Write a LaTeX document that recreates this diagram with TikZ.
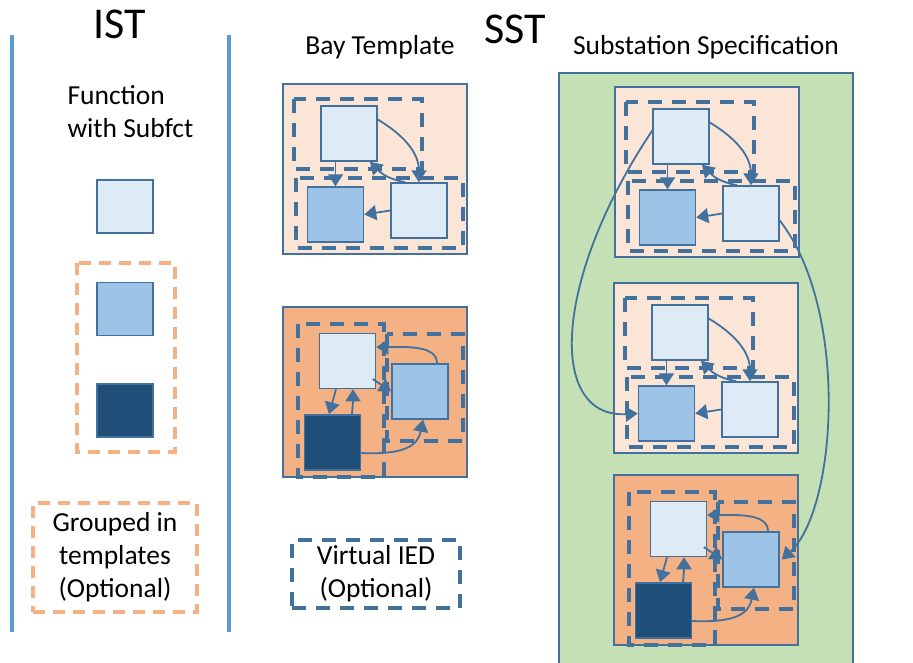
\documentclass[tikz,border=0pt]{standalone}
\usepackage{fontspec}
\setmainfont{Carlito}
\usetikzlibrary{arrows.meta}

\definecolor{blueline}{HTML}{41719C}
\definecolor{sepline}{HTML}{5B9BD5}
\definecolor{fctlight}{HTML}{DEEBF7}
\definecolor{fctmid}{HTML}{9DC3E6}
\definecolor{fctdark}{HTML}{1F4E79}
\definecolor{peach}{HTML}{FBE5D6}
\definecolor{apricot}{HTML}{F4B183}
\definecolor{sstgreen}{HTML}{C5E0B4}

\tikzset{
  fct/.style={draw=blueline, line width=1.5pt, minimum width=56pt, minimum height=55pt, inner sep=0pt},
  bayline/.style={draw=blueline, line width=1.5pt},
  iedbox/.style={draw=blueline, line width=4pt, dash pattern=on 14pt off 10pt},
  tmplbox/.style={draw=apricot, line width=3.5pt, dash pattern=on 12pt off 8pt},
  flow/.style={draw=blueline, line width=1.8pt, -{Triangle[length=12pt,width=15pt]}},
  title/.style={font=\fontsize{44}{52}\selectfont},
  head/.style={font=\fontsize{27.5}{33}\selectfont, align=center}
}

% bay template with three sub functions
\newcommand{\plainbay}{%
  \draw[bayline, fill=peach] (0,0) rectangle (184,170);
  \draw[iedbox] (11,15) rectangle (139,85);
  \draw[iedbox] (13,94) rectangle (180,164);
  \node[fct, fill=fctlight] (A) at (66,49.5) {};
  \node[fct, fill=fctmid] (B) at (52.5,130.5) {};
  \node[fct, fill=fctlight] (C) at (136,126.5) {};
  \draw[flow] (A.south -| B.north) -- (B.north);
  \draw[flow] ([yshift=14pt]A.east) .. controls +(25,15) and +(0,-30) .. (C.north);
  \draw[flow] ([xshift=-14pt]C.north) .. controls +(-20,-4) and +(10,10) .. ([xshift=21pt]A.south);
  \draw[flow] (C.west) -- (B.east);
}

% bay template with dark function
\newcommand{\fullbay}{%
  \draw[bayline, fill=apricot] (0,0) rectangle (184,170);
  \draw[iedbox] (15,17) rectangle (101,170);
  \draw[iedbox] (104,27) rectangle (180,134);
  \node[fct, fill=fctlight] (A) at (64.5,54) {};
  \node[fct, fill=fctmid] (B) at (137,84.5) {};
  \node[fct, fill=fctdark] (D) at (49.5,135.5) {};
  \draw[flow] ([xshift=-11.5pt]A.south) -- ([xshift=-3.5pt]D.north);
  \draw[flow] ([xshift=19.5pt]D.north) .. controls +(1,-12) .. ([xshift=5.5pt]A.south);
  \draw[flow] ([shift={(-3.5pt,-18pt)}]A.east) -- (B.west);
  \draw[flow] ([xshift=17pt]B.north) .. controls +(0,-18) and +(30,0) .. ([yshift=14pt]A.east);
  \draw[flow] ([yshift=-10.5pt]D.east) .. controls +(45,2) and +(-5,25) .. ([xshift=3pt]B.south);
}

\begin{document}
\begin{tikzpicture}[x=1pt,y=-1pt]
  \useasboundingbox (0,0) rectangle (913,662);

  % IST column
  \draw[sepline, line width=4pt] (12,35) -- (12,632);
  \draw[sepline, line width=4pt] (229,35) -- (229,632);
  \node[title] (ist) at (120,24) {IST};
  \node[head, align=left, anchor=west] (fcthead) at (64,112) {Function\\with Subfct};
  \node[fct, fill=fctlight, minimum height=53pt] (lgA) at (125,206.5) {};
  \draw[tmplbox] (77,263) rectangle (175,452);
  \node[fct, fill=fctmid, minimum height=53pt] (lgB) at (125,309) {};
  \node[fct, fill=fctdark, minimum height=53pt] (lgD) at (125,410.5) {};
  \node[tmplbox, head, minimum width=164pt, minimum height=109pt] (grpnote) at (115,557.5)
    {Grouped in\\templates\\(Optional)};

  % SST
  \node[title] (sst) at (515,29) {SST};
  \node[head] (bayhead) at (380,47) {Bay Template};
  \node[head] (sshead) at (706,47) {Substation Specification};

  \begin{scope}[shift={(283,84)}, name prefix=bt1-]
    \plainbay
  \end{scope}
  \begin{scope}[shift={(283,307)}, name prefix=bt2-]
    \fullbay
  \end{scope}
  \node[iedbox, head, minimum width=168pt, minimum height=68pt] (iednote) at (376,574)
    {Virtual IED\\(Optional)};

  \fill[sstgreen] (559,73) rectangle (853,664);
  \draw[bayline] (559,664) -- (559,73) -- (853,73) -- (853,664);
  \begin{scope}[shift={(615,87)}, name prefix=s1-]
    \plainbay
  \end{scope}
  \begin{scope}[shift={(614,283)}, name prefix=s2-]
    \plainbay
  \end{scope}
  \begin{scope}[shift={(614,475)}, name prefix=s3-]
    \fullbay
  \end{scope}
  \draw[flow] ([yshift=6pt]s1-A.west) .. controls +(-100,150) and +(-90,5) .. (s2-B.west);
  \draw[flow] ([yshift=-7pt]s1-C.east) .. controls +(70,90) and +(55,-50) .. ([xshift=2pt]s3-B.east);
\end{tikzpicture}
\end{document}
